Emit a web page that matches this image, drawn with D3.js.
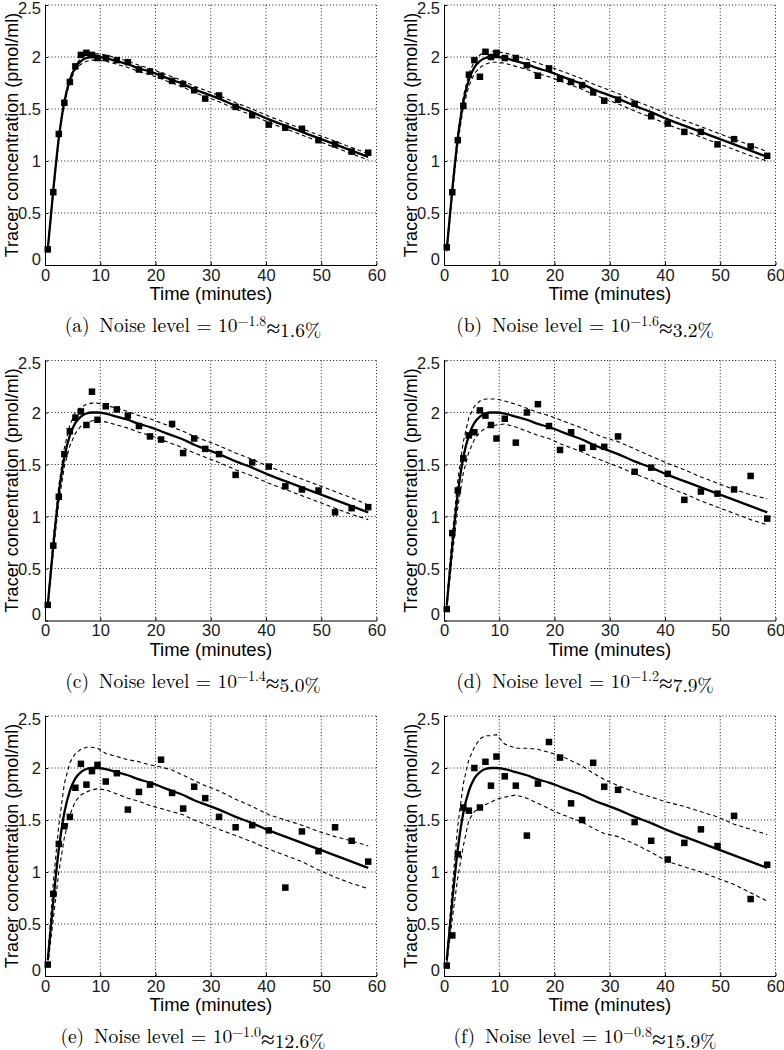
<!DOCTYPE html>
<html>
<head>
<meta charset="utf-8">
<script src="https://cdn.jsdelivr.net/npm/d3@7"></script>
<style>
  html, body { margin: 0; padding: 0; background: #fff; }
  svg { display: block; }
</style>
</head>
<body>
<svg id="chart" width="784" height="1050"></svg>
<script>
// ---------------- DATA ----------------
const times = [0.5,1.5,2.5,3.5,4.5,5.5,6.5,7.5,8.5,9.5,11,13,15,17,19,21,23,25,27,29,31.5,34.5,37.5,40.5,43.5,46.5,49.5,52.5,55.5,58.5];
const xTicks = [0,10,20,30,40,50,60];
const yTicks = [0,0.5,1,1.5,2,2.5];
const yTickLabels = ["0","0.5","1","1.5","2","2.5"];
const xLabel = "Time (minutes)";
const yLabel = "Tracer concentration (pmol/ml)";

const model = [0.15,0.72,1.22,1.57,1.78,1.90,1.96,1.99,2.00,2.00,1.99,1.96,1.93,1.89,1.86,1.82,1.78,1.74,1.69,1.65,1.60,1.53,1.47,1.40,1.34,1.28,1.22,1.16,1.10,1.04];

const obsA = [0.15,0.70,1.26,1.56,1.76,1.91,2.02,2.04,2.02,1.99,1.99,1.97,1.95,1.88,1.86,1.82,1.77,1.74,1.68,1.60,1.63,1.52,1.44,1.35,1.32,1.31,1.20,1.16,1.09,1.08];
const upperA = [0.16,0.74,1.24,1.59,1.80,1.92,1.99,2.02,2.03,2.03,2.02,1.99,1.96,1.92,1.89,1.85,1.81,1.77,1.72,1.68,1.63,1.56,1.50,1.43,1.37,1.31,1.25,1.19,1.13,1.07];
const lowerA = [0.14,0.70,1.20,1.55,1.76,1.88,1.93,1.96,1.97,1.97,1.96,1.93,1.90,1.86,1.83,1.79,1.75,1.71,1.66,1.62,1.57,1.50,1.44,1.37,1.31,1.25,1.19,1.13,1.07,1.01];

const obsB = [0.17,0.70,1.20,1.53,1.83,1.97,1.81,2.05,2.00,2.04,1.99,1.99,1.92,1.82,1.89,1.79,1.76,1.73,1.66,1.58,1.59,1.55,1.43,1.36,1.28,1.28,1.16,1.21,1.14,1.05];
const upperB = [0.17,0.76,1.27,1.62,1.84,1.96,2.02,2.05,2.05,2.05,2.04,2.01,1.98,1.94,1.91,1.87,1.83,1.79,1.74,1.70,1.65,1.58,1.52,1.45,1.39,1.33,1.27,1.21,1.15,1.09];
const lowerB = [0.13,0.68,1.17,1.52,1.72,1.84,1.90,1.93,1.95,1.95,1.94,1.91,1.88,1.84,1.81,1.77,1.73,1.69,1.64,1.60,1.55,1.48,1.42,1.35,1.29,1.23,1.17,1.11,1.05,1.00];

const obsC = [0.15,0.72,1.19,1.60,1.82,1.95,2.01,1.88,2.20,1.93,2.06,2.03,1.97,1.87,1.77,1.74,1.89,1.61,1.75,1.65,1.60,1.40,1.52,1.48,1.29,1.26,1.25,1.04,1.08,1.09];
const upperC = [0.17,0.78,1.30,1.66,1.88,2.00,2.05,2.08,2.09,2.09,2.07,2.04,2.01,1.97,1.94,1.90,1.86,1.82,1.77,1.73,1.68,1.61,1.55,1.48,1.42,1.36,1.30,1.24,1.18,1.11];
const lowerC = [0.13,0.66,1.14,1.48,1.68,1.80,1.87,1.90,1.92,1.92,1.91,1.88,1.85,1.81,1.78,1.74,1.70,1.66,1.61,1.57,1.52,1.45,1.39,1.32,1.26,1.20,1.14,1.08,1.02,0.97];

const obsD = [0.11,0.84,1.25,1.56,1.78,1.81,2.02,1.97,1.88,1.75,1.94,1.71,2.00,2.08,1.87,1.64,1.81,1.66,1.67,1.67,1.77,1.43,1.47,1.41,1.16,1.24,1.22,1.26,1.39,0.98];
const upperD = [0.18,0.82,1.35,1.72,1.95,2.06,2.11,2.13,2.13,2.13,2.11,2.08,2.04,2.00,1.97,1.93,1.89,1.85,1.80,1.76,1.72,1.65,1.58,1.51,1.45,1.38,1.32,1.26,1.21,1.17];
const lowerD = [0.12,0.62,1.09,1.42,1.62,1.74,1.81,1.85,1.87,1.88,1.89,1.86,1.82,1.78,1.75,1.70,1.66,1.62,1.57,1.53,1.48,1.41,1.35,1.28,1.22,1.15,1.09,1.03,0.97,0.92];

const obsE = [0.11,0.79,1.27,1.44,1.53,1.81,2.04,1.84,1.97,2.03,1.87,1.95,1.60,1.77,1.84,2.08,1.76,1.61,1.82,1.71,1.53,1.43,1.45,1.40,0.85,1.39,1.20,1.43,1.30,1.10];
const upperE = [0.18,0.90,1.45,1.85,2.05,2.14,2.18,2.20,2.20,2.19,2.14,2.11,2.08,2.06,2.03,2.01,1.98,1.93,1.88,1.83,1.78,1.70,1.63,1.55,1.50,1.45,1.39,1.34,1.30,1.25];
const lowerE = [0.10,0.55,1.00,1.33,1.55,1.68,1.74,1.77,1.79,1.80,1.79,1.75,1.71,1.68,1.64,1.61,1.58,1.55,1.50,1.46,1.41,1.35,1.29,1.22,1.16,1.10,1.02,0.95,0.89,0.84];

const obsF = [0.10,0.39,1.17,1.62,1.59,2.00,1.62,2.06,1.83,2.11,1.92,1.83,1.35,1.85,2.25,2.10,1.66,1.50,2.05,1.82,1.79,1.48,1.30,1.12,1.28,1.41,1.25,1.54,0.74,1.07];
const upperF = [0.17,0.85,1.45,1.85,2.08,2.20,2.28,2.31,2.31,2.32,2.23,2.19,2.19,2.18,2.15,2.12,2.07,2.02,1.95,1.89,1.83,1.77,1.72,1.67,1.63,1.58,1.53,1.46,1.41,1.36];
const lowerF = [0.12,0.55,0.95,1.25,1.50,1.58,1.62,1.65,1.67,1.70,1.72,1.74,1.71,1.66,1.61,1.56,1.52,1.48,1.42,1.37,1.34,1.27,1.19,1.10,1.05,1.00,0.94,0.88,0.80,0.72];

const letters = ["a","b","c","d","e","f"];
const exponents = ["\u22121.8","\u22121.6","\u22121.4","\u22121.2","\u22121.0","\u22120.8"];
const percents = ["1.6%","3.2%","5.0%","7.9%","12.6%","15.9%"];

const panels = [
  {obs: obsA, upper: upperA, lower: lowerA},
  {obs: obsB, upper: upperB, lower: lowerB},
  {obs: obsC, upper: upperC, lower: lowerC},
  {obs: obsD, upper: upperD, lower: lowerD},
  {obs: obsE, upper: upperE, lower: lowerE},
  {obs: obsF, upper: upperF, lower: lowerF}
];

// ---------------- LAYOUT ----------------
const colLeft = [45, 444];
const rowTop = [5, 360.5, 716];
const plotW = 331.5, plotH = 260;
const sans = "'Liberation Sans', Arial, Helvetica, sans-serif";
const serif = "'Latin Modern Roman','CMU Serif','DejaVu Serif', serif";

const svg = d3.select("#chart");

panels.forEach((p, i) => {
  const col = i % 2, row = Math.floor(i / 2);
  const g = svg.append("g").attr("transform", `translate(${colLeft[col]},${rowTop[row]})`);
  const x = d3.scaleLinear().domain([0, 60]).range([0, plotW]);
  const y = d3.scaleLinear().domain([0, 2.5]).range([plotH, 0]);

  // grid
  g.append("g").selectAll("line.vx").data(xTicks.filter(t => t > 0)).join("line")
    .attr("x1", d => x(d)).attr("x2", d => x(d)).attr("y1", 0).attr("y2", plotH)
    .attr("stroke", "#000").attr("stroke-width", 0.9).attr("stroke-dasharray", "1,2.2");
  g.append("g").selectAll("line.hy").data(yTicks.filter(t => t > 0)).join("line")
    .attr("x1", 0).attr("x2", plotW).attr("y1", d => y(d)).attr("y2", d => y(d))
    .attr("stroke", "#000").attr("stroke-width", 0.9).attr("stroke-dasharray", "1,2.2");

  // axes
  const xAxis = d3.axisBottom(x).tickValues(xTicks).tickSize(-3).tickSizeOuter(0).tickPadding(5).tickFormat(d3.format("d"));
  const yAxis = d3.axisLeft(y).tickValues(yTicks).tickSize(-3).tickSizeOuter(0).tickPadding(4).tickFormat((d, k) => yTickLabels[k]);
  const gx = g.append("g").attr("transform", `translate(0,${plotH})`).call(xAxis);
  const gy = g.append("g").call(yAxis);
  [gx, gy].forEach(a => {
    a.select(".domain").attr("stroke", "#000").attr("stroke-width", 1);
    a.selectAll(".tick line").attr("stroke", "#000");
    a.selectAll(".tick text").attr("fill", "#1a1a1a").style("font-family", sans).style("font-size", "16.5px");
  });
  gx.selectAll(".tick text").attr("dy", "0.66em");
  gy.selectAll(".tick text").attr("dy", "0.36em");
  gy.selectAll(".tick").filter(d => d === 2.5).select("text").attr("dy", "0.5em");
  gy.selectAll(".tick").filter(d => d === 0).select("text").attr("dy", "-0.05em");

  // lines
  const line = d3.line().x((d, k) => x(times[k])).y(d => y(d));
  g.append("path").datum(p.upper).attr("d", line).attr("fill", "none")
    .attr("stroke", "#000").attr("stroke-width", 1.1).attr("stroke-dasharray", "4,3");
  g.append("path").datum(p.lower).attr("d", line).attr("fill", "none")
    .attr("stroke", "#000").attr("stroke-width", 1.1).attr("stroke-dasharray", "4,3");
  g.append("path").datum(model).attr("d", d3.line().x((d, k) => x(times[k])).y(d => y(d)).curve(d3.curveMonotoneX))
    .attr("fill", "none").attr("stroke", "#000").attr("stroke-width", 2.3);

  // markers
  const ms = 6.5;
  g.append("g").selectAll("rect").data(p.obs).join("rect")
    .attr("x", (d, k) => x(times[k]) - ms / 2).attr("y", d => y(d) - ms / 2)
    .attr("width", ms).attr("height", ms).attr("fill", "#000");

  // axis labels
  g.append("text").attr("x", plotW / 2).attr("y", plotH + 35).attr("text-anchor", "middle")
    .style("font-family", sans).style("font-size", "18.5px").attr("fill", "#000").text(xLabel);
  g.append("text").attr("transform", `translate(-27,${plotH / 2}) rotate(-90)`).attr("text-anchor", "middle")
    .style("font-family", sans).style("font-size", "18px").attr("fill", "#000").text(yLabel);

  // caption
  const cx = 193 + col * 392 - colLeft[col];
  const cap = g.append("text").attr("x", cx).attr("y", plotH + 67).attr("text-anchor", "middle")
    .style("font-family", serif).style("font-size", "19.5px").attr("fill", "#000");
  cap.append("tspan").text(`(${letters[i]})\u2002Noise level = 10`);
  cap.append("tspan").attr("dy", "-0.45em").style("font-size", "14px").text(exponents[i]);
  cap.append("tspan").attr("dy", "0.45em").style("font-family", "'Liberation Serif', serif").style("font-size", "25px").text("\u2248");
  cap.append("tspan").text(percents[i]);
});
</script>
</body>
</html>
